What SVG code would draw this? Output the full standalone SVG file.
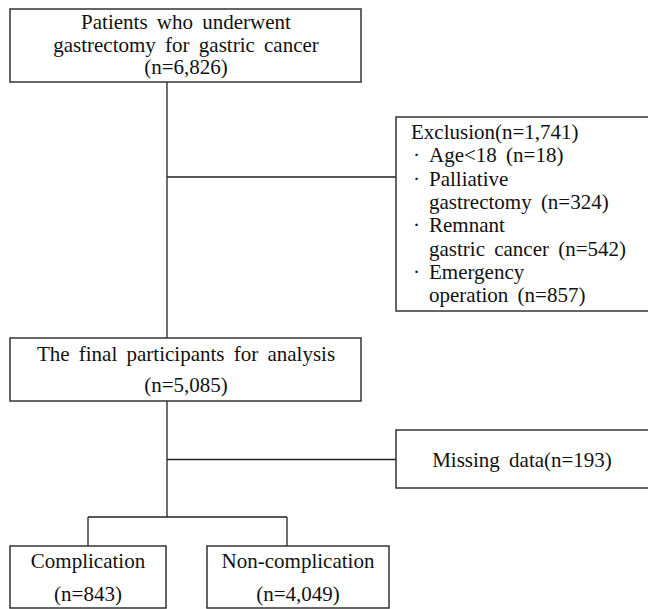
<svg xmlns="http://www.w3.org/2000/svg" width="648" height="609" viewBox="0 0 648 609">
<style>
.box{fill:#fff;stroke:#333;stroke-width:1.5}
.ln{fill:none;stroke:#222;stroke-width:1.3}
text{font-family:'Liberation Serif','DejaVu Serif',serif;font-size:21px;fill:#111;word-spacing:4px}
.c{text-anchor:middle}
</style>
<rect width="648" height="609" fill="#fff"/>
<g id="connectors">
<path class="ln" d="M167 82V338M167 177H396M167 401V517M167 459.5H396M88 517H287M88 517V546M287 517V546"/>
</g>
<g id="n-patients" font-family="Liberation Serif, DejaVu Serif, serif">
<rect class="box" x="10" y="9" width="351" height="73"/>
<text class="c" x="186" y="29">Patients who underwent</text>
<text class="c" x="186" y="52">gastrectomy for gastric cancer</text>
<text class="c" x="186" y="74">(n=6,826)</text>
</g>
<g id="n-exclusion">
<rect class="box" x="396" y="117" width="254" height="194"/>
<text x="411" y="139">Exclusion(n=1,741)</text>
<text y="162"><tspan x="413">·</tspan><tspan x="429">Age&lt;18 (n=18)</tspan></text>
<text y="186"><tspan x="413">·</tspan><tspan x="429">Palliative</tspan></text>
<text x="429" y="209">gastrectomy (n=324)</text>
<text y="232"><tspan x="413">·</tspan><tspan x="429">Remnant</tspan></text>
<text x="429" y="256">gastric cancer (n=542)</text>
<text y="279"><tspan x="413">·</tspan><tspan x="429">Emergency</tspan></text>
<text x="429" y="302">operation (n=857)</text>
</g>
<g id="n-final">
<rect class="box" x="10" y="338" width="351" height="63"/>
<text class="c" x="186" y="361">The final participants for analysis</text>
<text class="c" x="186" y="392">(n=5,085)</text>
</g>
<g id="n-missing">
<rect class="box" x="396" y="430" width="254" height="58"/>
<text class="c" x="522" y="467">Missing data(n=193)</text>
</g>
<g id="n-complication">
<rect class="box" x="10" y="546" width="156" height="62"/>
<text class="c" x="88" y="568">Complication</text>
<text class="c" x="88" y="601">(n=843)</text>
</g>
<g id="n-noncomplication">
<rect class="box" x="207" y="546" width="182" height="62"/>
<text class="c" x="298" y="568">Non-complication</text>
<text class="c" x="298" y="601">(n=4,049)</text>
</g>
</svg>
